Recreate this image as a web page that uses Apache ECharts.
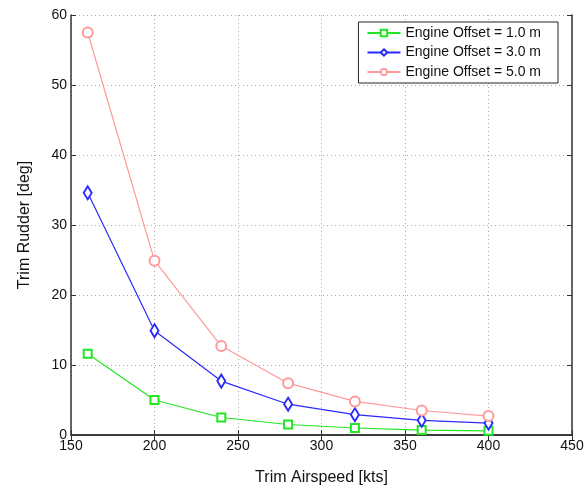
<!DOCTYPE html>
<html><head><meta charset="utf-8">
<script src="https://cdn.jsdelivr.net/npm/echarts@6/dist/echarts.min.js"></script>
<style>html,body{margin:0;padding:0;background:#fff}#c{width:587px;height:491px}</style>
</head><body><div id="c"></div>
<script>
const airspeed = [160, 200, 240, 280, 320, 360, 400];
const offset1 = [11.6, 5.0, 2.5, 1.5, 1.0, 0.7, 0.6];
const offset3 = [34.6, 14.9, 7.7, 4.4, 2.9, 2.1, 1.7];
const offset5 = [57.5, 24.9, 12.7, 7.4, 4.8, 3.5, 2.7];
const names = ['Engine Offset = 1.0 m', 'Engine Offset = 3.0 m', 'Engine Offset = 5.0 m'];

const font = 'Liberation Sans, Arial, sans-serif';
const chart = echarts.init(document.getElementById('c'));
const mk = (name, vals, color, symbol, size) => ({
  name, type: 'line', data: airspeed.map((x, i) => [x, vals[i]]),
  symbol, symbolSize: size, showSymbol: true,
  lineStyle: { color, width: 1.2 }, itemStyle: { color, borderColor: color, borderWidth: 1.2 },
  emphasis: { disabled: true }, animation: false
});
const axisCommon = {
  axisLine: { show: true, lineStyle: { color: '#333', width: 1.5 } },
  axisTick: { show: true, inside: true, length: 5, lineStyle: { color: '#333' } },
};
chart.setOption({
  animation: false,
  grid: { left: 71, top: 15, right: 15, bottom: 54 },
  legend: {
    orient: 'vertical', right: 29, top: 22, data: names,
    backgroundColor: '#fff', borderColor: '#222', borderWidth: 1,
    padding: [4, 17, 4, 8], itemGap: 5.5, itemWidth: 33, itemHeight: 8,
    textStyle: { fontFamily: font, fontSize: 14, color: '#111', lineHeight: 14 }
  },
  xAxis: [{
    type: 'value', min: 150, max: 450, interval: 50,
    name: 'Trim Airspeed [kts]', nameLocation: 'middle', nameGap: 35,
    nameTextStyle: { fontFamily: font, fontSize: 16, color: '#111' },
    axisLabel: { fontFamily: font, fontSize: 14, color: '#111', margin: 4 },
    splitLine: { show: true, lineStyle: { type: [1, 3], color: '#aaa' } },
    ...axisCommon
  }, {
    type: 'value', min: 150, max: 450, interval: 50, position: 'top',
    axisLabel: { show: false }, splitLine: { show: false }, ...axisCommon
  }],
  yAxis: [{
    type: 'value', min: 0, max: 60, interval: 10,
    name: 'Trim Rudder [deg]', nameLocation: 'middle', nameGap: 38,
    nameTextStyle: { fontFamily: font, fontSize: 16, color: '#111' },
    axisLabel: { fontFamily: font, fontSize: 14, color: '#111', margin: 4 },
    splitLine: { show: true, lineStyle: { type: [1, 3], color: '#aaa' } },
    ...axisCommon
  }, {
    type: 'value', min: 0, max: 60, interval: 10, position: 'right',
    axisLabel: { show: false }, splitLine: { show: false }, ...axisCommon
  }],
  series: [
    mk(names[0], offset1, '#22e622', 'emptyRect', 8),
    mk(names[1], offset3, '#2a2aff', 'emptyDiamond', [8, 13]),
    mk(names[2], offset5, '#ff9999', 'emptyCircle', 10)
  ]
});
</script></body></html>
